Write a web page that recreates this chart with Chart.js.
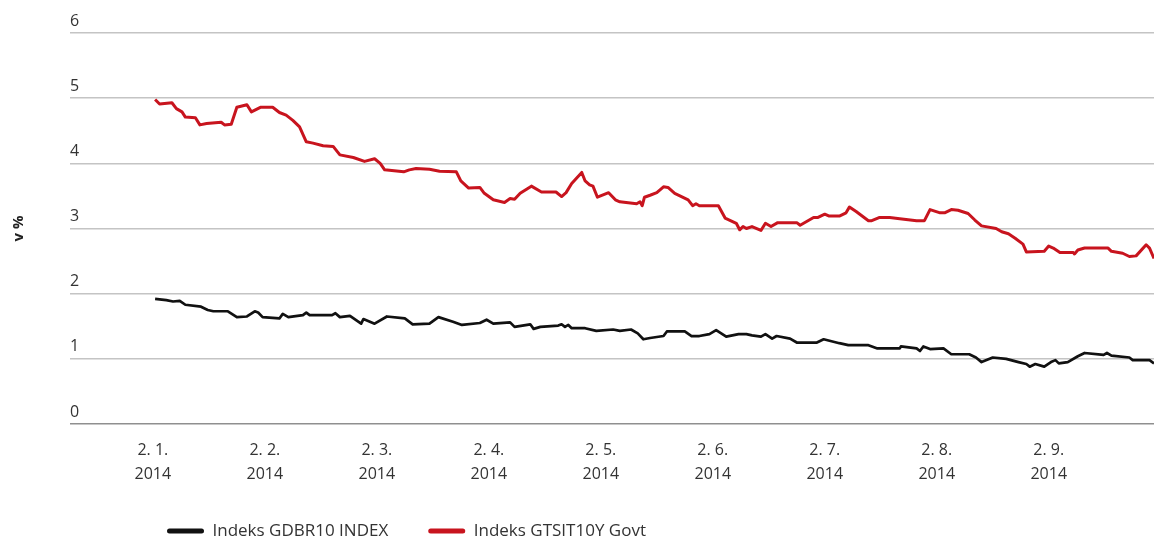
<!DOCTYPE html>
<html>
<head>
<meta charset="utf-8">
<script src="https://cdn.jsdelivr.net/npm/chart.js@4/dist/chart.umd.min.js"></script>
<style>
    html, body { margin: 0; padding: 0; background: #fff; }
    #wrap { width: 1154px; height: 543px; position: relative; }
</style>
</head>
<body>
<div id="wrap"><canvas id="myChart"></canvas></div>
<script>
    // x = months since 2. 1. 2014 (tick every month)
    var monthLabels = ["2. 1.", "2. 2.", "2. 3.", "2. 4.", "2. 5.", "2. 6.", "2. 7.", "2. 8.", "2. 9."];
    var yearLabel = "2014";

    var gdbrX = [0.02,0.12,0.18,0.24,0.29,0.43,0.49,0.54,0.67,0.75,
        0.84,0.91,0.94,0.98,1.13,1.16,1.21,1.34,1.37,1.40,
        1.60,1.63,1.67,1.76,1.86,1.88,1.98,2.09,2.25,2.32,
        2.47,2.55,2.68,2.76,2.92,2.98,3.04,3.19,3.23,3.37,
        3.40,3.46,3.62,3.65,3.68,3.71,3.74,3.86,3.96,4.11,
        4.17,4.27,4.33,4.38,4.44,4.56,4.59,4.75,4.81,4.88,
        4.97,5.03,5.12,5.23,5.30,5.35,5.43,5.47,5.53,5.57,
        5.69,5.75,5.93,5.99,6.13,6.21,6.39,6.47,6.67,6.68,
        6.82,6.85,6.88,6.94,7.06,7.13,7.29,7.35,7.40,7.50,
        7.62,7.73,7.80,7.83,7.88,7.96,8.02,8.06,8.09,8.17,
        8.26,8.32,8.49,8.52,8.56,8.72,8.75,8.90,8.94];
    var gdbrY = [1.92,1.90,1.88,1.89,1.83,1.80,1.75,1.73,1.73,1.64,
        1.65,1.73,1.71,1.64,1.62,1.69,1.64,1.67,1.71,1.67,
        1.67,1.70,1.64,1.66,1.54,1.61,1.54,1.65,1.62,1.53,
        1.54,1.64,1.57,1.52,1.55,1.60,1.54,1.56,1.49,1.53,
        1.46,1.49,1.51,1.53,1.49,1.52,1.47,1.47,1.43,1.45,
        1.43,1.45,1.39,1.30,1.32,1.35,1.42,1.42,1.35,1.35,
        1.38,1.44,1.34,1.38,1.38,1.36,1.34,1.38,1.31,1.35,
        1.31,1.25,1.25,1.30,1.24,1.21,1.21,1.16,1.16,1.19,
        1.16,1.12,1.19,1.15,1.16,1.07,1.07,1.02,0.95,1.02,
        1.00,0.95,0.92,0.88,0.92,0.88,0.95,0.98,0.93,0.95,
        1.04,1.09,1.06,1.09,1.05,1.02,0.98,0.98,0.93];

    var gtsitX = [0.02,0.06,0.17,0.21,0.26,0.29,0.38,0.42,0.48,0.61,
        0.64,0.70,0.75,0.84,0.88,0.96,1.07,1.13,1.19,1.25,
        1.31,1.37,1.43,1.52,1.61,1.67,1.79,1.89,1.98,2.03,
        2.07,2.24,2.29,2.35,2.47,2.56,2.71,2.75,2.82,2.92,
        2.96,3.04,3.14,3.19,3.23,3.28,3.38,3.47,3.60,3.65,
        3.69,3.74,3.83,3.86,3.90,3.93,3.97,4.07,4.13,4.17,
        4.32,4.35,4.37,4.39,4.44,4.50,4.56,4.60,4.66,4.78,
        4.82,4.85,4.88,5.05,5.11,5.21,5.24,5.27,5.30,5.35,
        5.43,5.47,5.52,5.58,5.75,5.78,5.90,5.94,6.00,6.04,
        6.13,6.19,6.22,6.28,6.39,6.42,6.49,6.58,6.67,6.82,
        6.89,6.94,7.03,7.07,7.13,7.19,7.28,7.34,7.40,7.53,
        7.58,7.64,7.70,7.77,7.80,7.96,8.00,8.04,8.10,8.22,
        8.23,8.26,8.32,8.53,8.56,8.66,8.72,8.78,8.87,8.90,
        8.94];
    var gtsitY = [4.98,4.91,4.93,4.84,4.79,4.71,4.70,4.59,4.61,4.63,
        4.59,4.60,4.86,4.90,4.79,4.86,4.86,4.78,4.74,4.66,
        4.56,4.33,4.31,4.27,4.26,4.13,4.09,4.03,4.07,4.00,
        3.90,3.87,3.90,3.92,3.91,3.88,3.87,3.73,3.62,3.63,
        3.54,3.44,3.40,3.46,3.45,3.54,3.65,3.56,3.56,3.49,
        3.55,3.69,3.86,3.73,3.67,3.65,3.48,3.55,3.44,3.41,
        3.38,3.41,3.35,3.48,3.51,3.55,3.64,3.63,3.54,3.44,
        3.35,3.38,3.35,3.35,3.16,3.08,2.98,3.03,3.00,3.03,
        2.97,3.08,3.03,3.09,3.09,3.05,3.17,3.17,3.22,3.19,
        3.19,3.24,3.33,3.26,3.12,3.12,3.17,3.17,3.15,3.12,
        3.12,3.29,3.24,3.24,3.29,3.28,3.23,3.13,3.04,3.00,
        2.95,2.92,2.85,2.76,2.64,2.65,2.73,2.70,2.63,2.63,
        2.61,2.67,2.70,2.70,2.65,2.62,2.57,2.58,2.75,2.70,
        2.54];

    var yTicks = [0, 1, 2, 3, 4, 5, 6];

    function points(xs, ys) {
        return xs.map(function(x, i) { return {x: x, y: ys[i]}; });
    }

    Chart.defaults.font.family = "'Open Sans', sans-serif";
    Chart.defaults.color = "#333";

    // move the legend row to where the original has it
    var legendPlace = {
        id: 'legendPlace',
        afterLayout: function(chart) {
            var lg = chart.legend;
            lg.left = 127;
            lg.top = 482.5;
        }
    };

    var ctx = document.getElementById("myChart");
    var myChart = new Chart(ctx, {
        type: 'line',
        data: {
            datasets: [
                {
                    label: "Indeks GDBR10 INDEX",
                    data: points(gdbrX, gdbrY),
                    borderColor: "#111111",
                    backgroundColor: "#111111",
                    borderWidth: 2.7,
                    pointRadius: 0,
                    tension: 0,
                    borderJoinStyle: 'round'
                },
                {
                    label: "Indeks GTSIT10Y Govt",
                    data: points(gtsitX, gtsitY),
                    borderColor: "#c8141e",
                    backgroundColor: "#c8141e",
                    borderWidth: 3,
                    pointRadius: 0,
                    tension: 0,
                    borderJoinStyle: 'round'
                }
            ]
        },
        options: {
            responsive: true,
            maintainAspectRatio: false,
            animation: false,
            layout: { padding: { top: 33, right: 0, left: 0, bottom: 0 } },
            plugins: {
                tooltip: { enabled: false },
                legend: {
                    position: 'bottom',
                    align: 'start',
                    maxHeight: 43,
                    labels: {
                        boxWidth: 37,
                        boxHeight: 5,
                        useBorderRadius: true,
                        borderRadius: 2.5,
                        padding: 40,
                        color: "#333",
                        font: { size: 17 },
                        generateLabels: function(chart) {
                            return Chart.defaults.plugins.legend.labels.generateLabels(chart).map(function(l) {
                                l.lineWidth = 0;
                                l.fillStyle = l.strokeStyle;
                                return l;
                            });
                        }
                    }
                }
            },
            scales: {
                x: {
                    type: 'linear',
                    min: -0.74,
                    max: 8.94,
                    afterBuildTicks: function(scale) {
                        scale.ticks = monthLabels.map(function(l, i) { return {value: i}; });
                    },
                    grid: { display: false, drawTicks: false },
                    border: { display: false },
                    ticks: {
                        autoSkip: false,
                        maxRotation: 0,
                        padding: 14,
                        color: "#333",
                        font: { size: 16, lineHeight: 1.5 },
                        callback: function(v) {
                            return [monthLabels[v], yearLabel];
                        }
                    }
                },
                y: {
                    min: 0,
                    max: 6,
                    afterBuildTicks: function(scale) {
                        scale.ticks = yTicks.map(function(v) { return {value: v}; });
                    },
                    grid: {
                        drawTicks: false,
                        lineWidth: 1.5,
                        color: function(c) { return c.tick && c.tick.value === 0 ? "#8f8f8f" : "#c4c4c4"; }
                    },
                    border: { display: false },
                    ticks: {
                        mirror: true,
                        padding: 0,
                        labelOffset: -12,
                        color: "#333",
                        font: { size: 16 }
                    },
                    title: {
                        display: true,
                        text: "v %",
                        color: "#222",
                        font: { size: 15, weight: 'bold', lineHeight: 1.2 },
                        padding: { top: 10, bottom: 42 }
                    }
                }
            }
        },
        plugins: [legendPlace]
    });
</script>
</body>
</html>
